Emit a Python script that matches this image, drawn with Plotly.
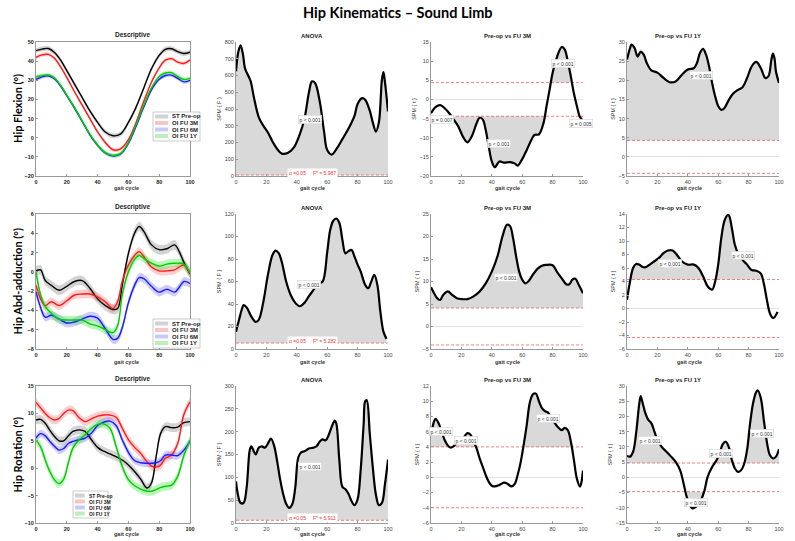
import plotly.graph_objects as go
from plotly.subplots import make_subplots

groups = ["ST Pre-op", "OI FU 3M", "OI FU 6M", "OI FU 1Y"]
line_colors = ["#000000", "#ff1a1a", "#1a1aff", "#00cc00"]
band_colors = ["rgba(130,130,130,0.35)", "rgba(255,90,90,0.3)",
               "rgba(90,90,255,0.3)", "rgba(60,230,60,0.35)"]
swatch_colors = ["#d2d2d2", "#f8c6c6", "#c9c9f6", "#b9f1b9"]

# ---------- descriptive means (deg) ----------
flex_x = [0, 4, 8, 12, 16, 20, 25, 30, 35, 40, 45, 50, 55, 60, 65, 70, 75, 80, 84, 88, 92, 96, 100]
flex_st = [45.5, 46.3, 46.6, 44.5, 40.5, 35, 28, 21, 14, 8, 3, 1, 2, 8, 16, 26, 36, 43, 46.2, 46.5, 45, 44, 44.7]
flex_3m = [42, 43.3, 43.5, 41.5, 37, 31.5, 24, 17, 10, 3, -2.5, -6.3, -5.8, -1, 8, 19, 29, 36.5, 40.5, 41.3, 39.5, 38.8, 40.5]
flex_6m = [30.5, 31.8, 32.3, 30.8, 27, 22, 15.5, 8.5, 1.5, -4, -8, -9.5, -8.5, -3, 6, 16, 25, 30.5, 32.5, 32.7, 31, 29.2, 30]
flex_1y = [31.8, 32.5, 32.8, 31.2, 27.3, 22.3, 15.8, 8.8, 1.8, -3.8, -7.8, -9.3, -8.2, -2.5, 6.8, 17, 26, 32, 33.8, 34, 32, 30.5, 31]
flex_sd = [1.3, 1.0, 1.0, 1.0]

abd_x = [0, 3, 6, 10, 15, 20, 25, 30, 35, 40, 45, 50, 53, 56, 60, 64, 67, 70, 75, 80, 85, 90, 93, 96, 100]
abd_st = [0.1, 0.2, -0.9, -1.4, -1.9, -1.5, -1.0, -0.9, -1.7, -2.8, -3.5, -3.9, -3.8, -1.4, 1.9, 4.0, 4.7, 4.2, 2.8, 2.3, 2.4, 2.8, 2.1, 1.0, -0.2]
abd_3m = [-1.4, -2.8, -3.5, -3.1, -3.5, -3.0, -2.4, -2.3, -2.3, -2.6, -3.1, -3.8, -3.1, -1.0, 0.7, 1.7, 2.1, 1.6, 0.5, 0.1, 0.1, 0.2, 0.5, 0.7, -0.2]
abd_6m = [-2.1, -3.7, -4.7, -4.5, -4.9, -5.3, -5.2, -4.9, -4.6, -4.8, -5.9, -7.0, -6.9, -5.8, -3.2, -1.4, -0.6, -0.7, -1.5, -2.1, -1.8, -2.1, -1.6, -1.0, -1.2]
abd_1y = [0.0, -2.4, -3.6, -4.3, -4.9, -5.0, -5.0, -5.0, -5.4, -5.6, -6.0, -6.3, -5.6, -2.4, 0.0, 1.3, 1.7, 1.4, 0.9, 0.6, 0.8, 0.9, 0.9, 0.8, -0.1]
abd_sd = [0.5, 0.45, 0.45, 0.45]

rot_x = [0, 3, 6, 9, 12, 15, 18, 21, 24, 28, 32, 36, 40, 44, 48, 52, 56, 60, 64, 68, 72, 75, 78, 81, 84, 88, 92, 96, 100]
rot_st = [8.8, 8.9, 8.2, 6.9, 5.8, 5.0, 5.0, 5.9, 6.7, 7.0, 6.7, 5.2, 3.8, 3.1, 2.6, 2.1, 1.5, 0.6, -0.6, -2.0, -3.6, -2.7, 2.1, 6.4, 7.6, 7.4, 7.5, 8.3, 8.5]
rot_3m = [12.0, 11.0, 10.0, 9.2, 8.8, 9.1, 10.0, 10.6, 10.5, 9.2, 8.5, 9.0, 9.5, 9.7, 9.7, 9.3, 7.3, 5.2, 3.8, 2.7, 1.2, 0.4, 0.2, 0.6, 1.8, 2.4, 4.5, 9.8, 12.1]
rot_6m = [5.5, 6.3, 5.9, 4.9, 4.0, 3.3, 3.6, 4.5, 4.9, 5.2, 5.5, 6.4, 7.8, 8.4, 8.6, 7.8, 5.2, 2.9, 1.4, 1.0, 0.9, 0.9, 1.0, 1.4, 2.4, 2.4, 2.3, 3.3, 4.9]
rot_1y = [5.1, 3.9, 1.5, -0.6, -2.1, -2.8, -2.0, 1.0, 3.7, 5.2, 6.1, 7.3, 8.0, 8.1, 7.3, 4.0, 0.3, -2.1, -3.2, -3.8, -4.2, -4.2, -3.9, -3.5, -3.3, -3.1, -1.5, 2.3, 5.1]
rot_sd = [0.8, 0.8, 0.7, 0.8]

# ---------- SPM statistics ----------
flex_f_x = [0, 1.5, 3, 4.5, 6, 8, 9.5, 12, 15, 18, 21, 25, 30, 34, 38, 42, 45, 48, 50, 52, 55, 58, 60, 63, 66, 70, 75, 78, 80, 83, 85, 88, 90, 92, 94, 96, 97, 98, 100]
flex_f = [625, 740, 780, 730, 640, 600, 570, 460, 350, 300, 260, 190, 135, 138, 170, 250, 340, 500, 565, 555, 450, 260, 155, 128, 160, 220, 300, 360, 430, 465, 455, 390, 320, 265, 320, 575, 620, 560, 385]
flex_t3_x = [0, 3, 6, 9, 12, 15, 18, 21, 24, 27, 30, 32, 34, 36, 38, 40, 42, 45, 48, 52, 55, 57, 60, 63, 66, 68, 71, 74, 76, 78, 80, 83, 86, 88, 90, 92, 94, 96, 98, 100]
flex_t3 = [-3.6, -2, -1.5, -2.3, -3.6, -5.3, -7.1, -9.7, -11.2, -9.5, -6.2, -4.8, -5.2, -8, -12.3, -16.2, -17.7, -16.2, -16.5, -16.4, -16.7, -17.3, -15.6, -13.2, -10.6, -9.3, -9.1, -6.2, -1.8, 2.5, 6.9, 11.2, 13.7, 13, 9.9, 6, 1.6, -1.8, -4.6, -5.6]
flex_t1_x = [0, 2, 3, 5, 7, 9, 11, 13, 16, 20, 24, 28, 32, 36, 40, 44, 46, 48, 50, 52, 54, 56, 58, 60, 62, 64, 67, 70, 73, 76, 79, 82, 85, 88, 91, 93, 95, 96, 97, 98, 100]
flex_t1 = [25.4, 28.4, 29.3, 28.4, 26.2, 27.5, 26.7, 24.5, 22.6, 22, 20.6, 19.5, 19.7, 21.4, 22.8, 23.2, 24.5, 27.1, 28.2, 26.7, 23.6, 19.3, 15.8, 13.3, 12.3, 12.7, 14.9, 16.6, 17.5, 18.2, 20.6, 23.6, 24.8, 23.2, 20.6, 21, 25.4, 27, 25.8, 22.3, 19.3]

abd_f_x = [0, 2, 4, 5, 7, 10, 13, 15, 18, 21, 24, 26, 28, 30, 33, 36, 39, 42, 45, 48, 51, 54, 57, 60, 62, 64, 66, 68, 70, 72, 74, 76, 78, 80, 82, 85, 87, 89, 91, 93, 95, 97, 99]
abd_f = [15.4, 26, 36, 39, 37, 29, 24, 26, 42, 66, 83.5, 87.5, 85.5, 78, 60, 48, 41, 38, 41, 47, 52.5, 58, 60, 86, 106, 114, 116, 112, 97, 85, 87, 88, 82, 75, 69, 57, 54, 60, 66, 57, 33, 15.4, 9]
abd_t3_x = [0, 2, 4, 6, 8, 11, 14, 17, 20, 24, 28, 32, 36, 40, 44, 47, 50, 52, 54, 56, 58, 60, 62, 64, 67, 70, 73, 76, 80, 83, 86, 89, 91, 93, 95, 97, 100]
abd_t3 = [8.7, 7.4, 6.3, 5.9, 7.0, 7.8, 7.0, 6.3, 6.1, 6.1, 6.7, 7.8, 9.6, 12.2, 15.9, 20, 22.6, 22.3, 19.6, 15.6, 12.2, 10.4, 9.6, 10.0, 11.5, 12.8, 13.5, 13.7, 13.6, 12.1, 10.7, 9.4, 9.4, 10.4, 10.6, 9.4, 7.4]
abd_t1_x = [0, 2, 4, 6, 8, 10, 12, 15, 18, 21, 24, 27, 30, 33, 36, 40, 44, 47, 50, 53, 56, 58, 60, 62, 64, 66, 67, 69, 71, 73, 76, 79, 82, 85, 88, 90, 92, 94, 96, 97, 99]
abd_t1 = [1.3, 4.0, 6.0, 6.6, 6.5, 6.2, 6.1, 6.5, 7.0, 7.5, 8.2, 8.6, 8.6, 7.9, 7.0, 6.5, 6.5, 6.0, 4.8, 3.3, 2.8, 4.0, 6.5, 10.4, 12.9, 13.8, 13.8, 11.9, 9.4, 8.2, 7.2, 6.5, 5.7, 5.6, 5.2, 3.7, 1.3, -0.7, -1.4, -1.3, -0.5]

rot_f_x = [0, 1, 3, 5, 7, 9, 10, 12, 13, 15, 17, 19, 21, 23, 25, 27, 29, 31, 33, 35, 37, 39, 41, 43, 45, 48, 51, 53, 55, 57, 59, 61, 63, 65, 66, 68, 70, 72, 74, 76, 78, 80, 82, 84, 85, 86, 88, 90, 92, 94, 96, 98, 100]
rot_f = [91, 67, 44, 44, 78, 159, 168, 155, 150, 165, 168, 165, 174, 185, 170, 137, 96, 64, 42, 33, 41, 78, 144, 155, 157, 163, 165, 168, 178, 183, 181, 193, 211, 224, 218, 137, 79, 74, 64, 48, 39, 52, 115, 218, 267, 269, 196, 122, 63, 39, 44, 85, 139]
rot_t3_x = [0, 2, 3, 5, 7, 9, 11, 13, 15, 18, 21, 24, 26, 28, 30, 32, 34, 36, 38, 40, 42, 45, 48, 50, 53, 55, 57, 59, 61, 63, 65, 67, 69, 71, 73, 75, 77, 80, 83, 86, 88, 90, 92, 94, 96, 98, 99, 100]
rot_t3 = [5.5, 7.35, 7.7, 7.1, 6.0, 4.9, 4.2, 3.9, 4.1, 4.7, 5.1, 5.8, 5.6, 4.7, 3.8, 2.5, 1.4, 0.3, -0.6, -1.1, -1.2, -1.0, -0.7, -0.8, -1.2, -0.9, 0.3, 2.0, 4.3, 6.9, 9.8, 10.9, 11.0, 10.0, 9.1, 8.7, 8.5, 7.6, 6.7, 6.2, 6.5, 6.2, 4.7, 2.3, -0.2, -1.2, -0.6, 0.9]
rot_t1_x = [0, 2, 4, 6, 8, 9, 10, 12, 14, 16, 18, 20, 23, 26, 29, 32, 35, 37, 39, 41, 43, 45, 47, 49, 51, 53, 56, 59, 61, 63, 65, 67, 69, 71, 73, 75, 77, 79, 81, 83, 85, 86, 88, 90, 92, 94, 96, 98, 100]
rot_t1 = [7.1, 6.8, 8.4, 14.5, 23.9, 26.7, 25.0, 21.2, 18.9, 17.8, 15.1, 12.3, 9.9, 8.4, 6.8, 5.1, 2.3, -1.5, -5.9, -8.9, -10.2, -9.8, -8.9, -7.1, -4.3, 0.1, 3.4, 5.7, 7.9, 10.9, 11.7, 9.9, 5.7, 2.9, 1.8, 2.3, 4.3, 9.0, 17.8, 24.5, 28.0, 28.6, 26.1, 18.9, 11.7, 7.3, 6.2, 6.8, 9.2]

row_titles = ["Hip Flexion (°)", "Hip Abd-adduction (°)", "Hip Rotation (°)"]
col_titles = ["Descriptive", "ANOVA", "Pre-op vs FU 3M", "Pre-op vs FU 1Y"]

panels = [
    [dict(kind="desc", x=flex_x, ys=[flex_st, flex_3m, flex_6m, flex_1y], sd=flex_sd, rng=[-20, 50], dt=10),
     dict(kind="F", x=flex_f_x, y=flex_f, thr=5.987, rng=[0, 800], dt=100, p=[(49, 340, "p < 0.001")]),
     dict(kind="t", x=flex_t3_x, y=flex_t3, thr=4.4, rng=[-20, 15], dt=5,
          p=[(7, -5.2, "p = 0.007"), (45, -11.4, "p < 0.001"), (87, 9.5, "p < 0.001"), (99, -6.2, "p = 0.005")]),
     dict(kind="t", x=flex_t1_x, y=flex_t1, thr=4.3, rng=[-5, 30], dt=5, p=[(49, 21.2, "p < 0.001")])],
    [dict(kind="desc", x=abd_x, ys=[abd_st, abd_3m, abd_6m, abd_1y], sd=abd_sd, rng=[-8, 6], dt=2),
     dict(kind="F", x=abd_f_x, y=abd_f, thr=5.282, rng=[0, 120], dt=20, p=[(48, 57, "p < 0.001")]),
     dict(kind="t", x=abd_t3_x, y=abd_t3, thr=4.1, rng=[-5, 25], dt=5, p=[(49.5, 10.9, "p < 0.001")]),
     dict(kind="t", x=abd_t1_x, y=abd_t1, thr=4.3, rng=[-6, 14], dt=2,
          p=[(28, 6.7, "p < 0.001"), (76.5, 7.8, "p < 0.001")])],
    [dict(kind="desc", x=rot_x, ys=[rot_st, rot_3m, rot_6m, rot_1y], sd=rot_sd, rng=[-10, 15], dt=5),
     dict(kind="F", x=rot_f_x, y=rot_f, thr=5.911, rng=[0, 300], dt=50, p=[(49, 124, "p < 0.001")]),
     dict(kind="t", x=rot_t3_x, y=rot_t3, thr=4.0, rng=[-6, 12], dt=2,
          p=[(6.5, 6.0, "p < 0.001"), (23, 4.9, "p < 0.001"), (77, 7.7, "p < 0.001")]),
     dict(kind="t", x=rot_t1_x, y=rot_t1, thr=4.7, rng=[-15, 30], dt=5,
          p=[(15, 12, "p < 0.001"), (62, 7.9, "p < 0.001"), (88.5, 14.3, "p < 0.001"), (45.7, -8.4, "p < 0.001")])],
]

# positions below are in window pixels; the page margin is removed in the html
W, H = 795, 541
col_px = [(36, 190), (236, 388), (431, 583), (627, 779)]
row_px = [(42, 176), (214, 349), (386, 523)]
xlab_gap = [12, 12.5, 11]
legend_px = [(153, 112, 47, 6), (153, 319, 47, 6), (73, 491, 35, 5)]
FONT = "Liberation Sans, Arial, sans-serif"
DASH = "3px,2px"


def fx(p):
    return p / W


def fy(p):
    return 1 - p / H


def clip_poly(x, y, thr, upper):
    xs, ys = [], []
    for i in range(len(x)):
        if i > 0:
            a, b = y[i - 1] - thr, y[i] - thr
            if a * b < 0:
                t = a / (a - b)
                xs.append(x[i - 1] + t * (x[i] - x[i - 1]))
                ys.append(thr)
        xs.append(x[i])
        ys.append(max(y[i], thr) if upper else min(y[i], thr))
    return xs + [xs[-1], xs[0]], ys + [thr, thr]


fig = make_subplots(rows=3, cols=4)

for r in range(3):
    for c in range(4):
        pn = panels[r][c]
        R, C = r + 1, c + 1
        if pn["kind"] == "desc":
            for k in range(4):
                y = pn["ys"][k]
                sd = pn["sd"][k]
                fig.add_trace(go.Scatter(x=pn["x"], y=[v - sd for v in y], mode="lines",
                                         line=dict(width=0, shape="spline"), hoverinfo="skip",
                                         showlegend=False), row=R, col=C)
                fig.add_trace(go.Scatter(x=pn["x"], y=[v + sd for v in y], mode="lines",
                                         line=dict(width=0, shape="spline"), fill="tonexty",
                                         fillcolor=band_colors[k], hoverinfo="skip",
                                         showlegend=False), row=R, col=C)
            for k in range(4):
                fig.add_trace(go.Scatter(x=pn["x"], y=pn["ys"][k], mode="lines", name=groups[k],
                                         line=dict(color=line_colors[k], width=1.4, shape="spline"),
                                         showlegend=False), row=R, col=C)
        else:
            thr = pn["thr"]
            px_, py_ = clip_poly(pn["x"], pn["y"], thr, True)
            fig.add_trace(go.Scatter(x=px_, y=py_, fill="toself", fillcolor="#d9d9d9", mode="lines",
                                     line=dict(width=0), hoverinfo="skip", showlegend=False), row=R, col=C)
            if pn["kind"] == "t":
                px_, py_ = clip_poly(pn["x"], pn["y"], -thr, False)
                fig.add_trace(go.Scatter(x=px_, y=py_, fill="toself", fillcolor="#d9d9d9", mode="lines",
                                         line=dict(width=0), hoverinfo="skip", showlegend=False), row=R, col=C)
                fig.add_trace(go.Scatter(x=[0, 100], y=[-thr, -thr], mode="lines",
                                         line=dict(color="rgba(235,70,70,0.85)", width=0.8, dash=DASH),
                                         hoverinfo="skip", showlegend=False), row=R, col=C)
            fig.add_trace(go.Scatter(x=[0, 100], y=[thr, thr], mode="lines",
                                     line=dict(color="rgba(235,70,70,0.85)", width=0.8, dash=DASH),
                                     hoverinfo="skip", showlegend=False), row=R, col=C)
            fig.add_trace(go.Scatter(x=pn["x"], y=pn["y"], mode="lines",
                                     line=dict(color="black", width=2.2, shape="spline"),
                                     showlegend=False), row=R, col=C)
            idx = r * 4 + c + 1
            xr = "x" if idx == 1 else f"x{idx}"
            yr = "y" if idx == 1 else f"y{idx}"
            for (ax, ay, txt) in pn["p"]:
                fig.add_annotation(x=ax, y=ay, xref=xr, yref=yr, text=txt, showarrow=False,
                                   bgcolor="white", bordercolor="#cccccc", borderwidth=0.5, borderpad=1,
                                   font=dict(family=FONT, size=5, color="#333"))
            if pn["kind"] == "F":
                fig.add_annotation(x=50, y=thr, xref=xr, yref=yr, yshift=2,
                                   text="α =0.05     F* = %.3f" % thr, showarrow=False,
                                   bgcolor="white", borderpad=1,
                                   font=dict(family=FONT, size=5, color="#ee3333"))

        x0, x1 = col_px[c]
        y0, y1 = row_px[r]
        first = c == 0
        tfont = dict(family=FONT, size=5.5, color="#222" if first else "#444")
        fig.update_xaxes(row=R, col=C, domain=[fx(x0), fx(x1)], range=[0, 100], dtick=20, tick0=0,
                         showgrid=False, zeroline=False, showline=True, linecolor="#999", linewidth=1,
                         mirror=first, ticks="inside", ticklen=2, tickcolor="#999",
                         tickprefix="<b>" if first else "", ticksuffix="</b>" if first else "",
                         tickfont=tfont)
        fig.update_yaxes(row=R, col=C, domain=[fy(y1), fy(y0)], range=pn["rng"], dtick=pn["dt"],
                         showgrid=False, zeroline=(pn["kind"] == "t"), zerolinecolor="#e2e2e2",
                         zerolinewidth=1, showline=True, linecolor="#999", linewidth=1,
                         mirror=first, ticks="inside", ticklen=2, tickcolor="#999",
                         tickprefix="<b>" if first else "", ticksuffix="</b>" if first else "",
                         tickfont=tfont)
        if not first:
            fig.update_yaxes(row=R, col=C, title=dict(
                text="SPM { F }" if pn["kind"] == "F" else "SPM { t }", standoff=2,
                font=dict(family=FONT, size=5.5, color="#333")))
        # x axis label
        fig.add_annotation(x=fx((x0 + x1) / 2), y=fy(y1 + xlab_gap[r]), xref="paper", yref="paper",
                           text="<b>gait cycle</b>", showarrow=False, yanchor="middle", borderpad=0,
                           font=dict(family=FONT, size=5.5, color="#333"))
        # panel title
        fig.add_annotation(x=fx((x0 + x1) / 2), y=fy(y0 - 1), xref="paper", yref="paper",
                           text="<b>%s</b>" % col_titles[c], showarrow=False, yanchor="bottom",
                           font=dict(family=FONT, size=6.5 if first else 6, color="#222"))

    # row label
    y0, y1 = row_px[r]
    fig.add_annotation(x=fx(17), y=fy((y0 + y1) / 2), xref="paper", yref="paper",
                       xanchor="center", yanchor="middle",
                       text="<b>%s</b>" % row_titles[r], textangle=-90, showarrow=False,
                       font=dict(family="Lato, sans-serif", size=11, color="black"))

    # legend box for the descriptive panel
    lx, ly, lw, fs = legend_px[r]
    step = 6.5 if fs > 5 else 6
    fig.add_shape(type="rect", xref="paper", yref="paper", x0=fx(lx), x1=fx(lx + lw),
                  y0=fy(ly + 3 + 4 * step), y1=fy(ly), line=dict(color="#aaa", width=0.6),
                  fillcolor="white")
    for k, name in enumerate(groups):
        yy = ly + 4.5 + k * step
        fig.add_shape(type="rect", xref="paper", yref="paper", x0=fx(lx + 2), x1=fx(lx + 2 + lw * 0.28),
                      y0=fy(yy + 2), y1=fy(yy - 2), line=dict(width=0), fillcolor=swatch_colors[k])
        fig.add_annotation(x=fx(lx + 4 + lw * 0.28), y=fy(yy), xref="paper", yref="paper",
                           text="<b>%s</b>" % name, showarrow=False, xanchor="left", yanchor="middle",
                           font=dict(family=FONT, size=fs, color="#222"))

fig.add_annotation(x=fx(397.5), y=fy(13), xref="paper", yref="paper", xanchor="center", yanchor="middle",
                   text="<b>Hip Kinematics – Sound Limb</b>", showarrow=False,
                   font=dict(family="Lato, sans-serif", size=14.5, color="black"))

fig.update_layout(width=W, height=H, margin=dict(l=0, r=0, t=0, b=0),
                  paper_bgcolor="white", plot_bgcolor="white", showlegend=False,
                  template="none")

fig.write_html("out.html", config={"displayModeBar": False},
               post_script="document.body.style.margin='0';")
